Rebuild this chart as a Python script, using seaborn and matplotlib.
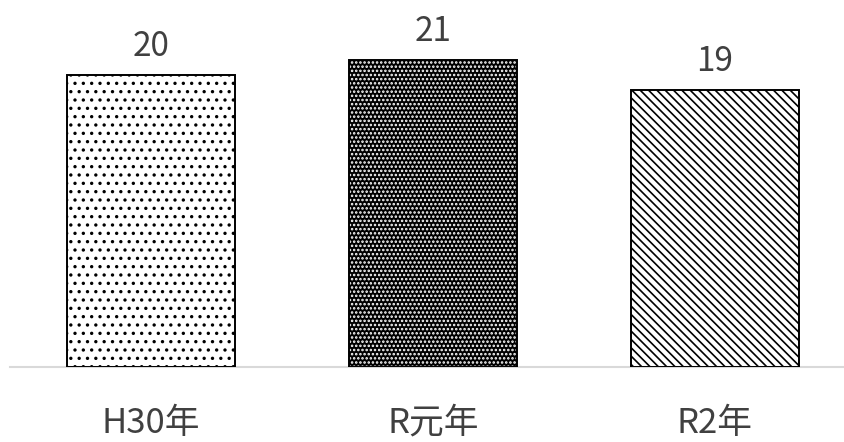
import matplotlib

matplotlib.use("Agg")

import matplotlib.pyplot as plt
import seaborn as sns

years = ["H30年", "R元年", "R2年"]
counts = [20, 21, 19]
hatches = ["..", "....", "\\\\\\\\"]
face_colors = ["white", "black", "white"]
hatch_colors = ["black", "white", "black"]

sns.set_style("white")
plt.rcParams["font.family"] = ["Noto Sans CJK JP", "DejaVu Sans"]
plt.rcParams["hatch.linewidth"] = 1.2

fig = plt.figure(figsize=(8.44, 4.42), dpi=100)
ax = fig.add_axes([10 / 844, 1 - 367 / 442, 834 / 844, 367 / 442])

sns.barplot(x=years, y=counts, ax=ax, width=0.596, color="white")

for patch, h, fc, hc in zip(ax.patches, hatches, face_colors, hatch_colors):
    patch.set_facecolor(fc)
    patch.set_edgecolor(hc)
    patch.set_hatch(h)
    patch.set_linewidth(0)
    x, y = patch.get_xy()
    ax.add_patch(plt.Rectangle((x, y), patch.get_width(), patch.get_height(),
                               fill=False, edgecolor="black", linewidth=1.4, zorder=3))

for i, v in enumerate(counts):
    ax.text(i, v + 0.75, str(v), ha="center", va="bottom", fontsize=24, color="#404040")

ax.set_xlim(-0.5, 834 / 282 - 0.5)
ax.set_ylim(0, 367 / 14.6)
ax.set_yticks([])
ax.tick_params(axis="x", length=0, labelsize=25, labelcolor="#404040", pad=28)
for s in ["top", "left", "right"]:
    ax.spines[s].set_visible(False)
ax.spines["bottom"].set_color("#d9d9d9")
ax.spines["bottom"].set_linewidth(1.5)

fig.savefig("out.png", dpi=100)
